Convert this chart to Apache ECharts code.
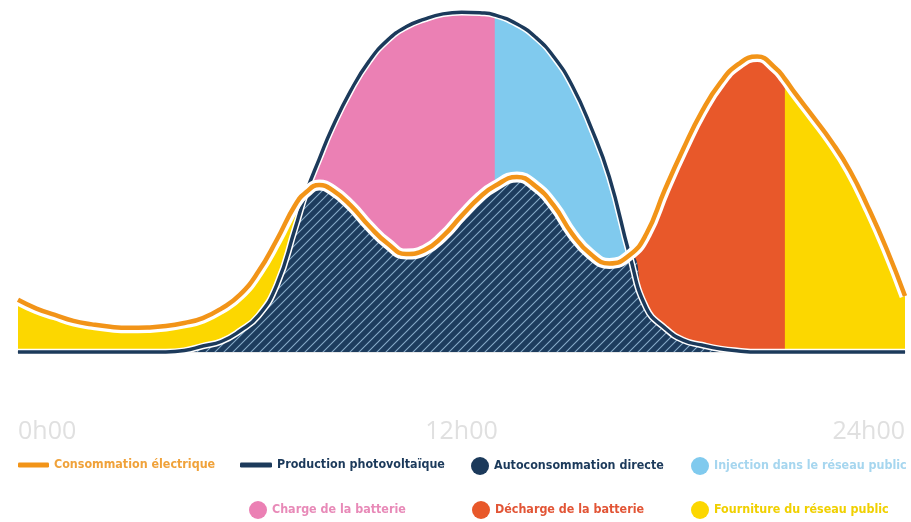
<!DOCTYPE html>
<html><head><meta charset="utf-8">
<script src="https://cdn.jsdelivr.net/npm/echarts@6/dist/echarts.min.js"></script>
<style>html,body{margin:0;padding:0;background:#fff}#c{width:911px;height:522px}</style>
</head><body><div id="c"></div>
<script>
// ---- data ----
const hours = [0,0.5,1,1.5,2,2.5,3,3.5,4,
  4.5,5,5.5,6,6.5,7,7.5,7.8,8.15,8.5,
  9,9.5,10,10.5,11,11.5,12,12.5,12.9,13.5,
  14,14.5,15,15.5,16,16.55,17,17.5,18,18.5,
  19,19.5,
  20,20.5,20.75,21,21.5,22,22.5,23,23.5,24];
const consumption = [14.9,12.4,10.6,8.9,7.9,7.2,6.9,7.0,7.4,
  8.3,9.7,12.4,16.3,22.9,32.0,42.0,45.7,47.7,46.3,
  41.9,36.0,31.0,28.0,29.1,33.1,38.9,44.3,47.4,50.0,
  47.4,41.8,33.7,27.9,25.3,27.7,33.7,46.3,58.0,68.6,
  76.9,82.3,
  84.4,81.1,78.0,74.3,67.4,60.3,52.0,41.4,29.5,16.0];
const production = [0,0,0,0,0,0,0,0,0,
  0.4,1.7,3.0,6.0,10.3,19.1,35.4,45.7,55.1,64.0,
  74.6,83.1,89.1,92.9,95.1,96.6,97.1,96.9,96.3,93.7,
  90.0,84.3,76.0,64.3,50.0,27.7,12.6,6.9,3.4,2.0,
  0.9,0.3,
  0,0,0,0,0,0,0,0,0,0];
const tickLabels = ['0h00','12h00','24h00'];
const chargeToInjectionHour = 12.9;   // pink -> light blue split
const dischargeFromHour = 15.5;       // discharge layer start (hidden under self-consumption)
const dischargeToGridHour = 20.75;    // red -> yellow split

// ---- derived layers ----
const consData = hours.map((h,i)=>[h, consumption[i]]);
const prodData = hours.map((h,i)=>[h, production[i]]);
const selfData = hours.map((h,i)=>[h, Math.min(consumption[i], production[i])]);
const injData = prodData.filter(d=>d[0] >= chargeToInjectionHour);
const dischargeData = consData.filter(d=>d[0] >= dischargeFromHour && d[0] <= dischargeToGridHour);

const NAVY='#1c3a5b', PINK='#eb80b4', BLUE='#80caee', RED='#e8582a', YELLOW='#fcd700', ORANGE='#f29418';

function hatch(){
  const s=9, c=document.createElement('canvas'); c.width=s; c.height=s;
  const g=c.getContext('2d'); g.fillStyle='#1d3c5e'; g.fillRect(0,0,s,s);
  g.strokeStyle='#87aac8'; g.lineWidth=1.1; g.beginPath();
  g.moveTo(0,s); g.lineTo(s,0);
  g.moveTo(-2,2); g.lineTo(2,-2);
  g.moveTo(s-2,s+2); g.lineTo(s+2,s-2);
  g.stroke(); return c;
}

const base = {type:'line', smooth:0.5, showSymbol:false, symbol:'none', clip:false, silent:true, emphasis:{disabled:true}, lineStyle:{width:0}};
const chart = echarts.init(document.getElementById('c'), null, {renderer:'canvas'});
const FONT = {fontFamily:'DejaVu Sans Condensed', fontWeight:'bold', fontSize:12.4};
function leg(name, icon, color, textColor, left, top, w, h){
  return {data:[{name, icon, itemStyle:{color, borderWidth:0}, textStyle:{color:textColor}}], left, top, itemWidth:w, itemHeight:h, padding:0, selectedMode:false, textStyle:FONT};
}
chart.setOption({
  animation:false,
  backgroundColor:'#fff',
  grid:{left:18, right:6, top:2, bottom:170},
  xAxis:{type:'value', min:0, max:24, interval:12, offset:39,
    axisLine:{show:true, lineStyle:{color:'#e8e8e8', width:2}}, axisTick:{show:false}, splitLine:{show:false},
    axisLabel:{margin:28, color:'#e0e0e0', fontSize:25, fontFamily:'Open Sans', alignMinLabel:'left', alignMaxLabel:'right',
      formatter:v=>tickLabels[Math.round(v/12)]}},
  yAxis:{type:'value', min:0, max:100, show:false},
  legend:[
    leg('Consommation électrique','roundRect',ORANGE,'#f0a23a',18,459,31,5),
    leg('Production photovoltaïque','roundRect',NAVY,NAVY,240,459,32,5),
    leg('Autoconsommation directe','circle',NAVY,NAVY,471,457,18,18),
    leg('Injection dans le réseau public','circle',BLUE,'#a6d6ef',691,457,18,18),
    leg('Charge de la batterie','circle',PINK,'#e88ab8',249,501,18,18),
    leg('Décharge de la batterie','circle',RED,'#e25536',472,501,18,18),
    leg('Fourniture du réseau public','circle',YELLOW,'#f0d000',691,501,18,18)
  ],
  series:[
    {...base, name:'Charge de la batterie', data:prodData, itemStyle:{color:PINK}, areaStyle:{color:PINK, opacity:1}},
    {...base, name:'Injection dans le réseau public', data:injData, itemStyle:{color:BLUE}, areaStyle:{color:BLUE, opacity:1}},
    {...base, name:'Fourniture du réseau public', data:consData, itemStyle:{color:YELLOW}, areaStyle:{color:YELLOW, opacity:1}},
    {...base, name:'Décharge de la batterie', data:dischargeData, itemStyle:{color:RED}, areaStyle:{color:RED, opacity:1}},
    {...base, name:'Autoconsommation directe', data:selfData, itemStyle:{color:NAVY}, areaStyle:{color:{image:hatch(), repeat:'repeat'}, opacity:1}},
    {...base, name:'_prodOutline', data:prodData, lineStyle:{color:'#ffffff', width:6.5}},
    {...base, name:'Production photovoltaïque', data:prodData, itemStyle:{color:NAVY}, lineStyle:{color:NAVY, width:3.5}},
    {...base, name:'_consOutline', data:consData, lineStyle:{color:'#ffffff', width:11}},
    {...base, name:'Consommation électrique', data:consData, itemStyle:{color:ORANGE}, lineStyle:{color:ORANGE, width:4.5}}
  ]
});
</script></body></html>
